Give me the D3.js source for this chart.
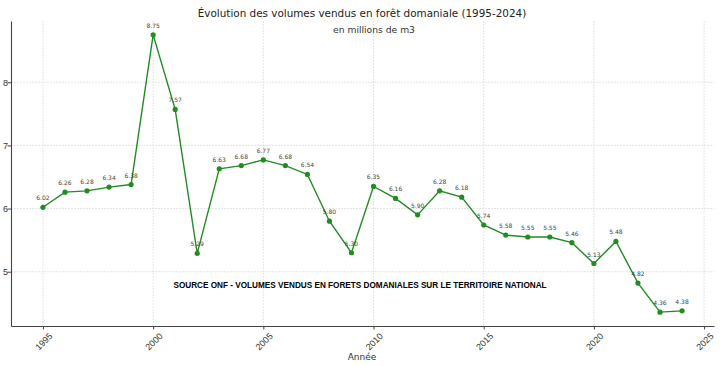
<!DOCTYPE html>
<html>
<head>
<meta charset="utf-8">
<script src="https://cdn.jsdelivr.net/npm/d3@7"></script>
<style>
  body { margin: 0; background: #fff; }
  svg { font-family: "DejaVu Sans", sans-serif; }
  .grid line { stroke: #ddd; stroke-width: 0.8; stroke-dasharray: 2,1; }
  .axis path, .axis line { stroke: #444; }
  .axis text { fill: #333; }
</style>
</head>
<body>
<div id="chart"></div>
<script>
// volumes vendus (millions de m3)
const years = [1995, 1996, 1997, 1998, 1999, 2000, 2001, 2002, 2003, 2004,
               2005, 2006, 2007, 2008, 2009, 2010, 2011, 2012, 2013, 2014,
               2015, 2016, 2017, 2018, 2019, 2020, 2021, 2022, 2023, 2024];
const volumes = [6.02, 6.26, 6.28, 6.34, 6.38, 8.75, 7.57, 5.29, 6.63, 6.68,
                 6.77, 6.68, 6.54, 5.80, 5.30, 6.35, 6.16, 5.90, 6.28, 6.18,
                 5.74, 5.58, 5.55, 5.55, 5.46, 5.13, 5.48, 4.82, 4.36, 4.38];
const xTicks = [1995, 2000, 2005, 2010, 2015, 2020, 2025];
const yTicks = [5, 6, 7, 8];

const width = 720, height = 366;
const margin = {top: 21, right: 6, bottom: 40, left: 11};

const svg = d3.select('#chart').append('svg')
    .attr('width', width)
    .attr('height', height);

// domaines avec marge de 5% (comme matplotlib)
let xPad = (d3.max(years) - d3.min(years)) * 0.05;
let yExt = d3.extent(volumes);
let yPad = (yExt[1] - yExt[0]) * 0.05;

const x = d3.scaleLinear()
    .domain([d3.min(years) - xPad, d3.max(years) + xPad])
    .range([margin.left, width - margin.right]);
const y = d3.scaleLinear()
    .domain([yExt[0] - yPad, yExt[1] + yPad])
    .range([height - margin.bottom, margin.top]);

// grille
svg.append('g').attr('class', 'grid')
    .selectAll('line.v').data(xTicks).join('line')
    .attr('x1', d => x(d)).attr('x2', d => x(d))
    .attr('y1', margin.top).attr('y2', height - margin.bottom);
svg.append('g').attr('class', 'grid')
    .selectAll('line.h').data(yTicks).join('line')
    .attr('y1', d => y(d)).attr('y2', d => y(d))
    .attr('x1', margin.left).attr('x2', width - margin.right);

// axes
let xAxis = svg.append('g').attr('class', 'axis')
    .attr('transform', `translate(0,${height - margin.bottom})`)
    .call(d3.axisBottom(x).tickValues(xTicks).tickFormat(d3.format('d')).tickSize(3.5).tickSizeOuter(0));
xAxis.select('.domain').attr('stroke-width', 1.1);
xAxis.selectAll('text')
    .attr('font-size', 9)
    .attr('text-anchor', 'end')
    .attr('dy', null)
    .attr('transform', 'translate(5,6) rotate(-45)');

let yAxis = svg.append('g').attr('class', 'axis')
    .attr('transform', `translate(${margin.left},0)`)
    .call(d3.axisLeft(y).tickValues(yTicks).tickFormat(d3.format('d')).tickSize(3.5).tickSizeOuter(0));
yAxis.select('.domain').attr('stroke-width', 1.1);
yAxis.selectAll('text').attr('font-size', 9).attr('x', -3);

// ligne
const line = d3.line()
    .x((d, i) => x(years[i]))
    .y(d => y(d));

svg.append('path')
    .datum(volumes)
    .attr('fill', 'none')
    .attr('stroke', '#228b22')
    .attr('stroke-width', 1.4)
    .attr('d', line);

svg.append('g').selectAll('circle')
    .data(volumes).join('circle')
    .attr('cx', (d, i) => x(years[i]))
    .attr('cy', d => y(d))
    .attr('r', 2.6)
    .attr('fill', '#228b22');

svg.append('g').selectAll('text')
    .data(volumes).join('text')
    .attr('x', (d, i) => x(years[i]))
    .attr('y', d => y(d) - 7)
    .attr('text-anchor', 'middle')
    .attr('font-size', 6)
    .attr('fill', '#444')
    .text(d => d.toFixed(2));

// titres
svg.append('text')
    .attr('x', 362).attr('y', 17)
    .attr('text-anchor', 'middle')
    .attr('font-size', 10.4)
    .attr('fill', '#222')
    .text('Évolution des volumes vendus en forêt domaniale (1995-2024)');

svg.append('text')
    .attr('x', 374).attr('y', 33)
    .attr('text-anchor', 'middle')
    .attr('font-size', 9.2)
    .attr('fill', '#333')
    .text('en millions de m3');

svg.append('text')
    .attr('x', 360).attr('y', 288)
    .attr('text-anchor', 'middle')
    .attr('font-family', '"Liberation Sans", Arial, sans-serif')
    .attr('font-weight', 'bold')
    .attr('font-size', 8.2)
    .attr('fill', '#000')
    .text('SOURCE ONF - VOLUMES VENDUS EN FORETS DOMANIALES SUR LE TERRITOIRE NATIONAL');

svg.append('text')
    .attr('x', 362).attr('y', 360)
    .attr('text-anchor', 'middle')
    .attr('font-size', 9)
    .attr('fill', '#333')
    .text('Année');
</script>
</body>
</html>
